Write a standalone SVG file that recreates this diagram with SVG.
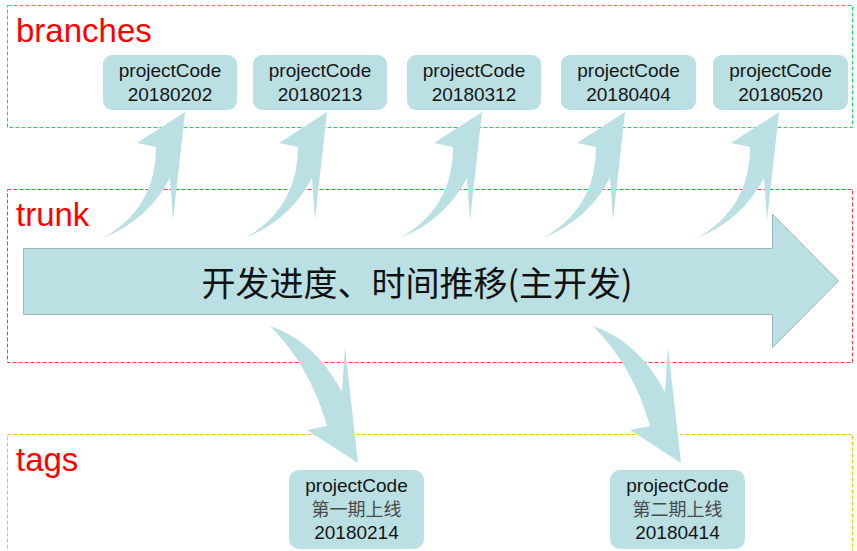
<svg xmlns="http://www.w3.org/2000/svg" width="857" height="551" viewBox="0 0 857 551">
<style>
.lane{fill:none;stroke-width:1;stroke-dasharray:4 2}
.lbl{font-family:"Liberation Sans",Arial,sans-serif;font-size:33px;fill:#FF0000}
.node{fill:#BBE0E3}
.nt{font-family:"Liberation Sans",Arial,sans-serif;font-size:19px;fill:#151515;text-anchor:middle}
.cn{font-family:"Noto Sans CJK SC",sans-serif;font-size:18px;fill:#4a4a4a;text-anchor:middle}
.swoosh{fill:#BBE0E3}
</style>
<defs>
<path id="up" d="M0,0 Q53,-30 53,-91 L34,-95 L82,-126 L70,-18 L67,-60 Q45,-18 0,0 Z"/>
<path id="down" d="M0,0 Q45,15 72,66 L75,21 L88,137 L37,104 L57,100 Q40,40 0,0 Z"/>
</defs>
<rect width="857" height="551" fill="#ffffff"/>

<g id="lane-branches">
<rect class="lane" x="7.5" y="5.5" width="845" height="122" stroke="#1ED760"/>
<text class="lbl" x="16" y="42">branches</text>
</g>
<g id="lane-trunk">
<rect class="lane" x="7.5" y="189.5" width="845" height="173" stroke="#FF3B3B"/>
<text class="lbl" x="16" y="226">trunk</text>
</g>
<g id="lane-tags">
<rect class="lane" x="7.5" y="434.5" width="845" height="130" stroke="#FFC000"/>
<text class="lbl" x="16" y="471">tags</text>
</g>

<g id="connectors" class="swoosh">
<use href="#up" x="103" y="238"/>
<use href="#up" x="245" y="238"/>
<use href="#up" x="400" y="238"/>
<use href="#up" x="543" y="238"/>
<use href="#up" x="697" y="238"/>
<use href="#down" x="270" y="326"/>
<use href="#down" x="593" y="326"/>
</g>

<g id="trunk-arrow">
<path d="M23.5,248.5 L772.5,248.5 L772.5,214.5 L838.5,281 L772.5,347.5 L772.5,314.5 L23.5,314.5 Z" fill="#BBE0E3" stroke="#9DB6B9" stroke-width="1"/>
<text x="417" y="296" font-family="'Noto Sans CJK SC',sans-serif" font-size="34" fill="#111111" text-anchor="middle">开发进度、时间推移(主开发)</text>
</g>

<g id="branch-20180202">
<rect class="node" x="103" y="55" width="134" height="55" rx="9"/>
<text class="nt" x="170" y="77">projectCode</text>
<text class="nt" x="170" y="101">20180202</text>
</g>
<g id="branch-20180213">
<rect class="node" x="253" y="55" width="134" height="55" rx="9"/>
<text class="nt" x="320" y="77">projectCode</text>
<text class="nt" x="320" y="101">20180213</text>
</g>
<g id="branch-20180312">
<rect class="node" x="407" y="55" width="134" height="55" rx="9"/>
<text class="nt" x="474" y="77">projectCode</text>
<text class="nt" x="474" y="101">20180312</text>
</g>
<g id="branch-20180404">
<rect class="node" x="561" y="55" width="135" height="55" rx="9"/>
<text class="nt" x="628.5" y="77">projectCode</text>
<text class="nt" x="628.5" y="101">20180404</text>
</g>
<g id="branch-20180520">
<rect class="node" x="713" y="55" width="135" height="55" rx="9"/>
<text class="nt" x="780.5" y="77">projectCode</text>
<text class="nt" x="780.5" y="101">20180520</text>
</g>

<g id="tag-20180214">
<rect class="node" x="289" y="470" width="135" height="79" rx="10"/>
<text class="nt" x="356.5" y="492">projectCode</text>
<text class="cn" x="356.5" y="516">第一期上线</text>
<text class="nt" x="356.5" y="539">20180214</text>
</g>
<g id="tag-20180414">
<rect class="node" x="610" y="470" width="135" height="79" rx="10"/>
<text class="nt" x="677.5" y="492">projectCode</text>
<text class="cn" x="677.5" y="516">第二期上线</text>
<text class="nt" x="677.5" y="539">20180414</text>
</g>
</svg>
